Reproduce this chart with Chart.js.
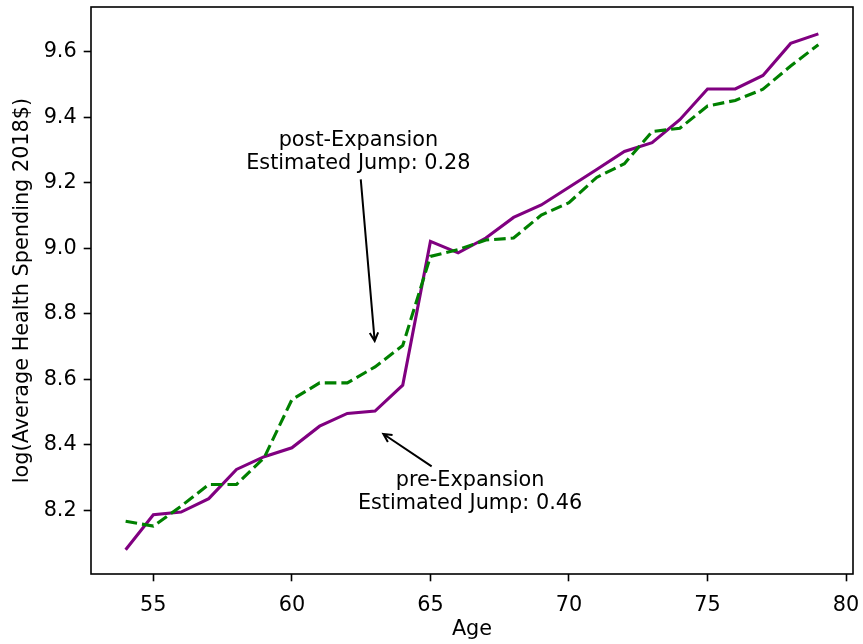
<!DOCTYPE html>
<html>
<head>
<meta charset="utf-8">
<script src="https://cdn.jsdelivr.net/npm/chart.js@4/dist/chart.umd.min.js"></script>
<style>
  html, body { margin: 0; padding: 0; background: #fff; }
  #wrap { width: 863px; height: 644px; }
</style>
</head>
<body>
<div id="wrap"><canvas id="myChart" width="863" height="644"></canvas></div>
<script>
// ages on the x axis
const ages = [54, 55, 56, 57, 58, 59, 60, 61, 62, 63, 64, 65, 66,
              67, 68, 69, 70, 71, 72, 73, 74, 75, 76, 77, 78, 79];

// log average spending, before the expansion
const preExpansion = [8.080, 8.187, 8.195, 8.236, 8.325, 8.364, 8.391, 8.457, 8.496, 8.503, 8.582, 9.021, 8.986,
                      9.031, 9.094, 9.132, 9.186, 9.240, 9.295, 9.322, 9.392, 9.486, 9.486, 9.527, 9.625, 9.654];

// log average spending, after the expansion
const postExpansion = [8.167, 8.152, 8.213, 8.279, 8.279, 8.361, 8.538, 8.589, 8.589, 8.638, 8.703, 8.975, 8.996,
                       9.025, 9.031, 9.101, 9.139, 9.216, 9.258, 9.356, 9.366, 9.434, 9.451, 9.485, 9.556, 9.621];

const xTicks = [55, 60, 65, 70, 75, 80];
const yTicks = [8.2, 8.4, 8.6, 8.8, 9.0, 9.2, 9.4, 9.6];

// annotation texts: [x, y] of the text centre and of the arrow tip
const postNote = ["post-Expansion", "Estimated Jump: 0.28"];
const postNoteAt = [62.4, 9.294];
const postNoteTip = [63.0, 8.705];
const preNote = ["pre-Expansion", "Estimated Jump: 0.46"];
const preNoteAt = [66.43, 8.256];
const preNoteTip = [63.18, 8.44];

const FONT = "DejaVu Sans";
const FS = 20.8;

// axis spans with matplotlib-like margins
const xMin = 52.75, xMax = 80.25;
const yMin = 8.006, yMax = 9.736;

const frame = {
  id: "frame",
  afterDraw(chart) {
    const { ctx, chartArea: a } = chart;
    ctx.save();
    ctx.strokeStyle = "#000";
    ctx.lineWidth = 1.6;
    ctx.strokeRect(a.left, a.top, a.right - a.left, a.bottom - a.top);
    ctx.restore();
  }
};

function drawNote(chart, lines, at, tip) {
  const ctx = chart.ctx;
  const xs = chart.scales.x, ys = chart.scales.y;
  const cx = xs.getPixelForValue(at[0]), cy = ys.getPixelForValue(at[1]);
  const tx = xs.getPixelForValue(tip[0]), ty = ys.getPixelForValue(tip[1]);
  const lh = 23.5;
  ctx.save();
  ctx.font = FS + "px '" + FONT + "'";
  ctx.fillStyle = "#000";
  ctx.textAlign = "center";
  ctx.textBaseline = "middle";
  let w = 0;
  lines.forEach((s, i) => {
    ctx.fillText(s, cx, cy + (i - (lines.length - 1) / 2) * lh);
    w = Math.max(w, ctx.measureText(s).width);
  });
  const hw = w / 2, hh = lines.length * lh / 2;
  // leave the text box along the line from its centre to the tip
  const dx = tx - cx, dy = ty - cy;
  const t = Math.min(Math.abs(hw / (dx || 1e-9)), Math.abs(hh / (dy || 1e-9)));
  const len = Math.hypot(dx, dy);
  const ux = dx / len, uy = dy / len;
  const sx = cx + dx * t + ux * 4, sy = cy + dy * t + uy * 4;
  const ex = tx - ux * 4, ey = ty - uy * 4;
  ctx.strokeStyle = "#000";
  ctx.lineWidth = 2;
  ctx.beginPath();
  ctx.moveTo(sx, sy);
  ctx.lineTo(ex, ey);
  // open arrow head
  const hl = 8.3, hwid = 4.2;
  ctx.moveTo(ex - ux * hl - uy * hwid, ey - uy * hl + ux * hwid);
  ctx.lineTo(ex, ey);
  ctx.lineTo(ex - ux * hl + uy * hwid, ey - uy * hl - ux * hwid);
  ctx.stroke();
  ctx.restore();
}

const notes = {
  id: "notes",
  afterDraw(chart) {
    drawNote(chart, postNote, postNoteAt, postNoteTip);
    drawNote(chart, preNote, preNoteAt, preNoteTip);
  }
};

const ctx = document.getElementById("myChart").getContext("2d");

new Chart(ctx, {
  type: "line",
  data: {
    datasets: [
      {
        label: "post-Expansion",
        data: ages.map((a, i) => ({ x: a, y: postExpansion[i] })),
        borderColor: "#008000",
        borderWidth: 3.1,
        borderDash: [11.6, 5],
        pointRadius: 0,
        tension: 0,
        fill: false
      },
      {
        label: "pre-Expansion",
        data: ages.map((a, i) => ({ x: a, y: preExpansion[i] })),
        borderColor: "#800080",
        borderWidth: 3.1,
        pointRadius: 0,
        tension: 0,
        fill: false
      }
    ]
  },
  options: {
    responsive: false,
    animation: false,
    layout: { padding: { top: 7, right: 10, left: 0, bottom: 0 } },
    plugins: { legend: { display: false }, tooltip: { enabled: false } },
    scales: {
      x: {
        type: "linear",
        min: xMin,
        max: xMax,
        afterBuildTicks: (s) => { s.ticks = xTicks.map(v => ({ value: v })); },
        afterFit: (s) => { s.height = 70; s.paddingLeft = 0; s.paddingRight = 0; },
        grid: { drawOnChartArea: false, drawTicks: true, tickLength: 7.3, tickWidth: 1.6, tickColor: "#000" },
        border: { display: false },
        ticks: { color: "#000", padding: 12, maxRotation: 0, font: { family: FONT, size: FS } },
        title: { display: true, text: "Age", color: "#000", padding: { top: 0, bottom: 2 }, font: { family: FONT, size: FS } }
      },
      y: {
        type: "linear",
        min: yMin,
        max: yMax,
        afterBuildTicks: (s) => { s.ticks = yTicks.map(v => ({ value: v })); },
        afterFit: (s) => { s.width = 91; s.paddingTop = 0; s.paddingBottom = 0; },
        grid: { drawOnChartArea: false, drawTicks: true, tickLength: 7.3, tickWidth: 1.6, tickColor: "#000" },
        border: { display: false },
        ticks: { color: "#000", padding: 7, font: { family: FONT, size: FS }, callback: (v) => v.toFixed(1) },
        title: { display: true, text: "log(Average Health Spending 2018$)", color: "#000", padding: { top: 10, bottom: 0 }, font: { family: FONT, size: FS } }
      }
    }
  },
  plugins: [frame, notes]
});
</script>
</body>
</html>
